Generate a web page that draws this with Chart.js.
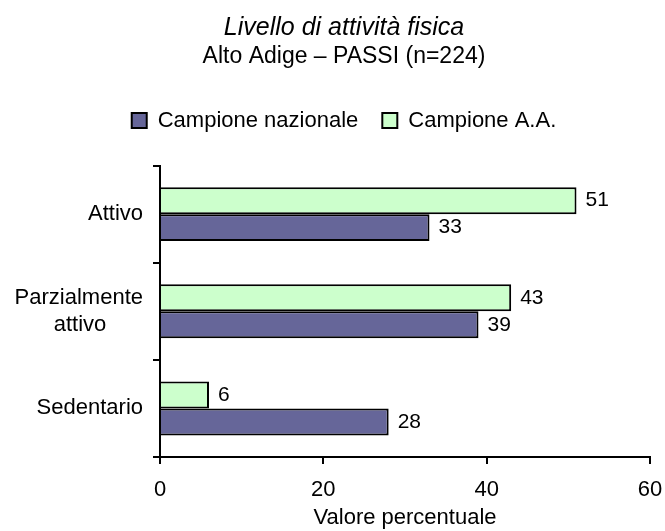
<!DOCTYPE html>
<html>
<head>
  <meta charset="utf-8">
  <title>Livello di attività fisica</title>
  <script src="https://cdn.jsdelivr.net/npm/chart.js"></script>
  <style>
    body { margin: 0; background: #fff; }
    .chart-container { width: 665px; height: 531px; }
  </style>
</head>
<body>
  <div class="chart-container"><canvas id="activityChart"></canvas></div>

  <script>
    const categories = [['Attivo'], ['Parzialmente', 'attivo'], ['Sedentario']];
    const campioneAA = [51, 43, 6];
    const campioneNazionale = [33, 39, 28];
    const xTicks = [0, 20, 40, 60];

    const FONT = '"Liberation Sans", Arial, sans-serif';
    Chart.defaults.font.family = FONT;
    Chart.defaults.color = '#000';

    // centre the shorter lines of a multi-line label under the longest one
    const measureCtx = document.createElement('canvas').getContext('2d');
    function centerLines(lines, size) {
      if (!Array.isArray(lines) || lines.length < 2) return lines;
      measureCtx.font = size + 'px ' + FONT;
      const w = Math.max(...lines.map(l => measureCtx.measureText(l).width));
      const sp = measureCtx.measureText(' ').width;
      return lines.map(l => l + ' '.repeat(Math.round((w - measureCtx.measureText(l).width) / 2 / sp)));
    }

    const valueLabels = {
      id: 'valueLabels',
      afterDatasetsDraw(chart) {
        const ctx = chart.ctx;
        ctx.save();
        ctx.font = '21px ' + FONT;
        ctx.fillStyle = '#000';
        ctx.textAlign = 'left';
        ctx.textBaseline = 'middle';
        chart.data.datasets.forEach((ds, i) => {
          chart.getDatasetMeta(i).data.forEach((bar, j) => {
            ctx.fillText(ds.data[j], bar.x + 9, bar.y);
          });
        });
        ctx.restore();
      }
    };

    // the y labels are clipped to the scale box; let the long one reach the left edge
    const widenLabelArea = {
      id: 'widenLabelArea',
      afterLayout(chart) { chart.scales.y.left = 0; }
    };

    new Chart(document.getElementById('activityChart'), {
      type: 'bar',
      data: {
        labels: categories,
        datasets: [
          { label: 'Campione A.A.', data: campioneAA, backgroundColor: '#CCFFCC',
            borderColor: '#000', borderWidth: 2, categoryPercentage: 0.555, barPercentage: 1 },
          { label: 'Campione nazionale', data: campioneNazionale, backgroundColor: '#666699',
            borderColor: '#000', borderWidth: 2, categoryPercentage: 0.555, barPercentage: 1 }
        ]
      },
      options: {
        indexAxis: 'y',
        responsive: true,
        maintainAspectRatio: false,
        animation: false,
        layout: { padding: { left: 28, right: 5, top: 0, bottom: 0 } },
        plugins: {
          title: {
            display: true,
            text: 'Livello di attività fisica',
            font: { size: 25, style: 'italic', weight: 'normal' },
            padding: { top: 13, bottom: 0 }
          },
          subtitle: {
            display: true,
            text: 'Alto Adige – PASSI (n=224)',
            font: { size: 23 },
            color: '#000',
            padding: { top: 0, bottom: 15 }
          },
          legend: {
            reverse: true,
            labels: { boxWidth: 15, boxHeight: 15, padding: 24, font: { size: 22 } }
          },
          tooltip: { enabled: false }
        },
        scales: {
          x: {
            min: 0, max: 60,
            afterBuildTicks: s => { s.ticks = xTicks.map(v => ({ value: v })); },
            afterFit: s => { s.height = 74; s.paddingRight = 15; },
            grid: { drawOnChartArea: false, drawTicks: true, tickLength: 7, lineWidth: 2, color: '#000' },
            border: { color: '#000', width: 2 },
            ticks: { font: { size: 22 }, padding: 13, color: '#000' },
            title: { display: true, text: 'Valore percentuale', font: { size: 22 }, padding: 0, color: '#000' }
          },
          xPad: {
            type: 'linear', position: 'top', display: true,
            grid: { display: false }, border: { display: false }, ticks: { display: false },
            afterFit: s => { s.height = 24; }
          },
          y: {
            afterFit: s => { s.width = 132; },
            grid: { drawOnChartArea: false, drawTicks: true, tickLength: 7, lineWidth: 2, color: '#000' },
            border: { color: '#000', width: 2 },
            ticks: {
              font: { size: 22 }, padding: 10, color: '#000',
              callback: function (v) { return centerLines(this.getLabelForValue(v), 22); }
            }
          }
        }
      },
      plugins: [valueLabels, widenLabelArea]
    });
  </script>
</body>
</html>
